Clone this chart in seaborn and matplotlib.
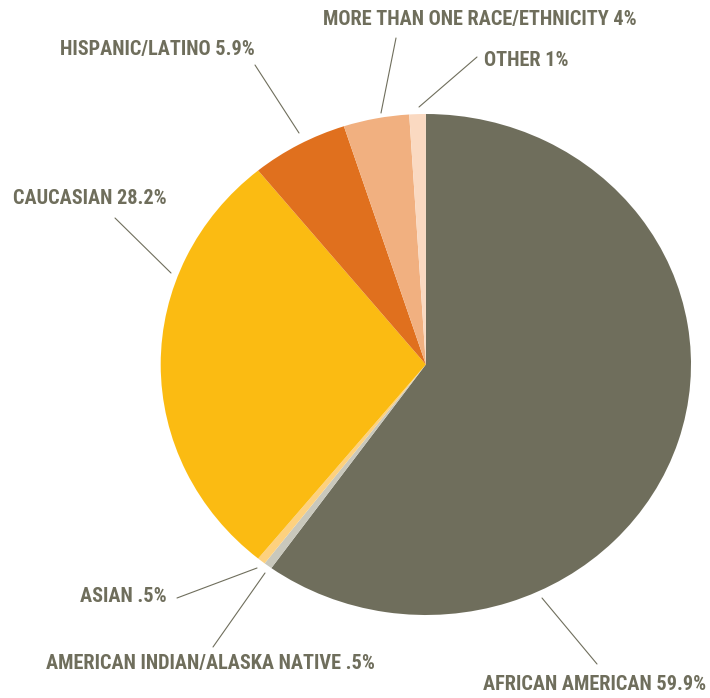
import matplotlib
matplotlib.use("Agg")
import matplotlib.pyplot as plt
import seaborn as sns

# ---- data ----
categories = ["AFRICAN AMERICAN", "AMERICAN INDIAN/ALASKA NATIVE", "ASIAN", "CAUCASIAN",
              "HISPANIC/LATINO", "MORE THAN ONE RACE/ETHNICITY", "OTHER"]
values = [59.9, 0.5, 0.5, 28.2, 5.9, 4.0, 1.0]
value_labels = ["59.9%", ".5%", ".5%", "28.2%", "5.9%", "4%", "1%"]
colors = ["#6f6e5c", "#c9c8bc", "#fdd17f", "#fbbb12", "#e0701e", "#f1b080", "#fad9c1"]

# ---- layout (pixels, origin top-left) ----
W, H = 710, 698
text_pos = [(483, 685), (46, 664), (80, 596), (13, 199), (60, 50), (323, 19), (484, 60)]
line_from = [(542, 598), (213, 647), (177, 598), (115, 218), (255, 65), (396, 38), (477, 57)]
line_to = [(597, 664), (265, 573), (257, 568), (171, 273), (299, 133), (381, 113), (419, 107)]
pie_left, pie_right, pie_top, pie_bottom = 160.7, 691, 114, 615

sns.set_theme(style="white")
plt.rcParams["font.family"] = ["Roboto Condensed", "Barlow Condensed", "DejaVu Sans"]
txt_color = "#6f6e5c"

fig = plt.figure(figsize=(W / 100, H / 100), dpi=100)
fig.patch.set_facecolor("white")
ax = fig.add_axes([pie_left / W, 1 - pie_bottom / H,
                   (pie_right - pie_left) / W, (pie_bottom - pie_top) / H])
palette = sns.color_palette(colors)
ax.pie(values, colors=palette, startangle=90, counterclock=False,
       wedgeprops=dict(linewidth=0))
ax.set_aspect("auto")
ax.set_xlim(-1, 1)
ax.set_ylim(-1, 1)
ax.axis("off")


def f(p):
    return (p[0] / W, 1 - p[1] / H)


for cat, vl, tp, lf, lt in zip(categories, value_labels, text_pos, line_from, line_to):
    x, y = f(tp)
    fig.text(x, y, f"{cat} {vl}", ha="left", va="center", fontsize=14.6,
             fontweight="bold", color=txt_color)
    (x0, y0), (x1, y1) = f(lf), f(lt)
    fig.add_artist(plt.Line2D([x0, x1], [y0, y1], transform=fig.transFigure,
                              color=txt_color, lw=0.8))

fig.savefig("out.png", dpi=100)
